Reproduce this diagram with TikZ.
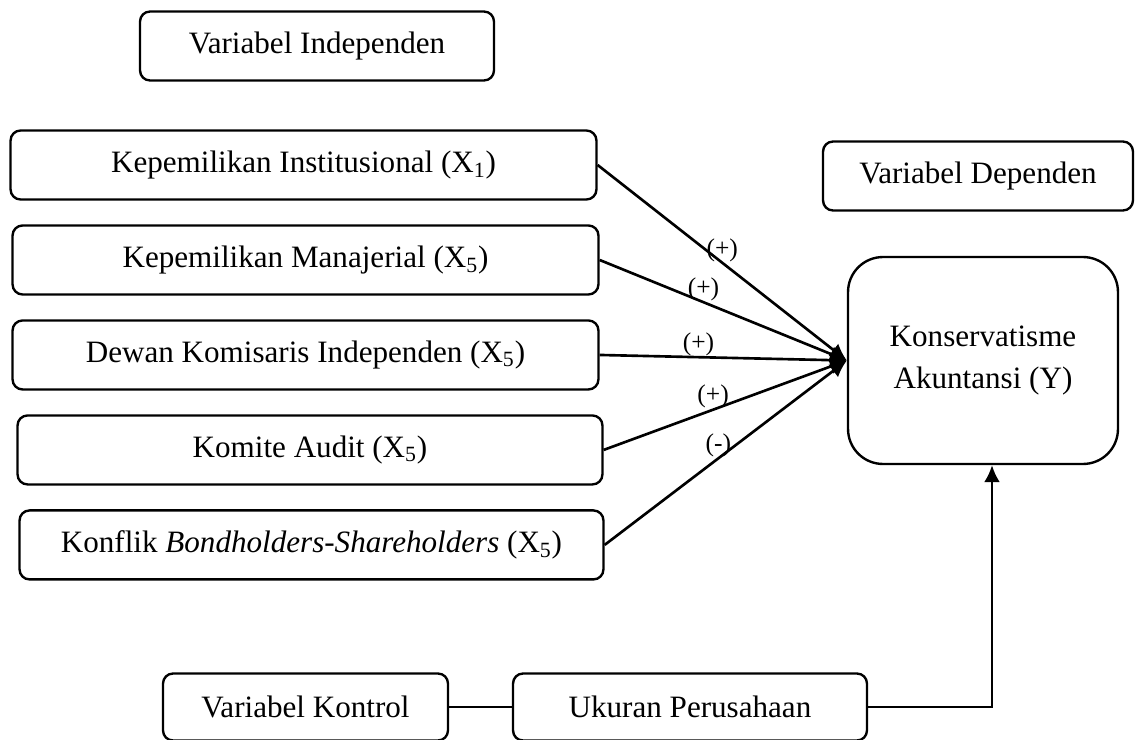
\documentclass[tikz,border=0pt]{standalone}
\usepackage{fontspec}
\setmainfont{Liberation Serif}
\usetikzlibrary{positioning, arrows.meta}

\begin{document}
\begin{tikzpicture}[
        x=0.02cm, y=-0.02cm,
        node distance=1.9cm,
        on grid,
        line width=1.35pt,
        box/.style={draw, rounded corners=0.2cm, minimum height=1.38cm, font=\fontsize{17.7}{21}\selectfont},
        var/.style={box, minimum width=11.72cm},
        lbl/.style={above, inner sep=0pt, font=\fontsize{14.5}{16}\selectfont},
        link/.style={line width=1.5pt, -{Latex[length=0.34cm, width=0.32cm]}}
    ]
        \useasboundingbox (0,0) rectangle (1136,740);

        \node[box, minimum width=7.08cm] (vi) at (317,46) {Variabel Independen};
        \node[box, minimum width=6.2cm] (vd) at (978,176) {Variabel Dependen};

        \node[var] (k1) at (303.5,165) {Kepemilikan Institusional (X\textsubscript{1})};
        \node[var] (k2) [below=of k1, xshift=0.04cm] {Kepemilikan Manajerial (X\textsubscript{5})};
        \node[var] (k3) [below=of k2] {Dewan Komisaris Independen (X\textsubscript{5})};
        \node[var, minimum width=11.7cm] (k4) [below=of k3, xshift=0.09cm] {Komite Audit (X\textsubscript{5})};
        \node[var, minimum width=11.68cm] (k5) [below=of k4, xshift=0.03cm] {Konflik \textit{Bondholders-Shareholders} (X\textsubscript{5})};

        \node[box, rounded corners=0.7cm, minimum width=5.4cm, minimum height=4.14cm, align=center,
              font=\fontsize{17.7}{23.8}\selectfont] (ka) at (983,360.5) {Konservatisme\\Akuntansi (Y)};

        \node[box, minimum width=5.7cm, minimum height=1.34cm] (vk) at (305.5,707) {Variabel Kontrol};
        \node[box, minimum width=7.08cm, minimum height=1.34cm] (up) at (690,707) {Ukuran Perusahaan};

        \path[link]
        (k1.east) edge node[lbl, pos=0.5] {(+)} (ka.west)
        (k2.east) edge node[lbl, pos=0.42] {(+)} (ka.west)
        (k3.east) edge node[lbl, pos=0.4] {(+)} (ka.west)
        (k4.east) edge node[lbl, pos=0.45] {(+)} (ka.west)
        (k5.east) edge node[lbl, pos=0.47] {(-)} (ka.west);

        \draw[line width=1.5pt] (vk) -- (up);
        \draw[link] (up.east) -| ([xshift=0.18cm]ka.south);
    \end{tikzpicture}
\end{document}
